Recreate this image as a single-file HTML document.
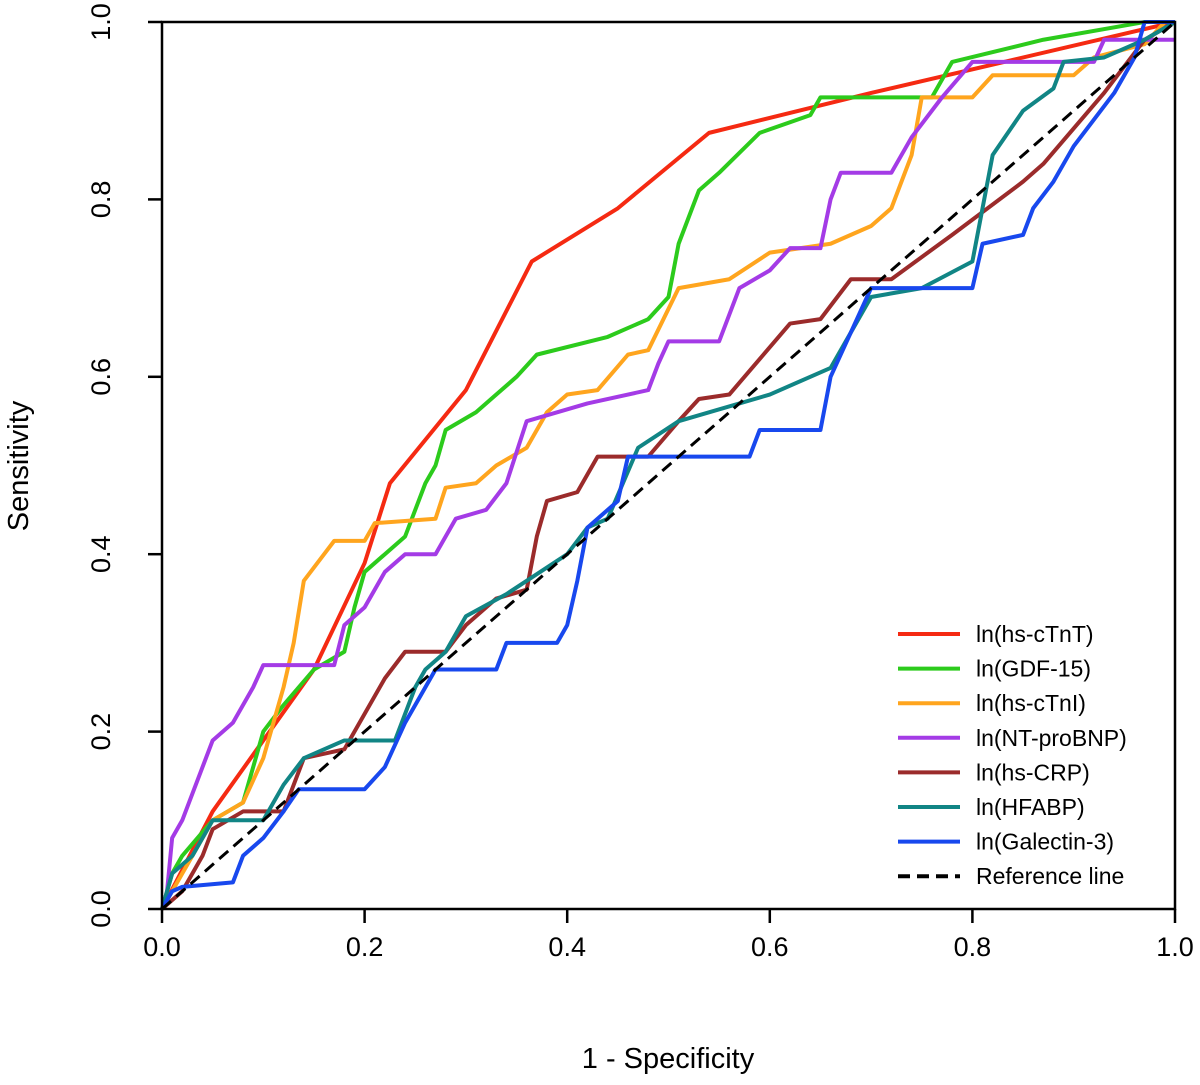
<!DOCTYPE html>
<html><head><meta charset="utf-8"><style>
body{margin:0;background:#fff}
svg text{font-family:"Liberation Sans",sans-serif;fill:#000}
</style></head><body>
<svg id="chart" width="1200" height="1080" xmlns="http://www.w3.org/2000/svg">
<g id="marks"></g>
</svg>
<script>
const xTicks=[0,0.2,0.4,0.6,0.8,1.0];
const yTicks=[0,0.2,0.4,0.6,0.8,1.0];
const seriesNames=["ln(hs-cTnT)","ln(GDF-15)","ln(hs-cTnI)","ln(NT-proBNP)","ln(hs-CRP)","ln(HFABP)","ln(Galectin-3)"];
const cTnT=[[0,0],[0.05,0.11],[0.1,0.19],[0.15,0.27],[0.2,0.39],[0.225,0.48],[0.3,0.585],[0.365,0.73],[0.45,0.79],[0.54,0.875],[0.7,0.92],[1,1]];
const gdf=[[0,0],[0.01,0.04],[0.02,0.06],[0.05,0.1],[0.08,0.12],[0.1,0.2],[0.12,0.23],[0.15,0.27],[0.18,0.29],[0.19,0.34],[0.2,0.38],[0.22,0.4],[0.24,0.42],[0.26,0.48],[0.27,0.5],[0.28,0.54],[0.31,0.56],[0.33,0.58],[0.35,0.6],[0.37,0.625],[0.44,0.645],[0.48,0.665],[0.5,0.69],[0.51,0.75],[0.52,0.78],[0.53,0.81],[0.55,0.83],[0.59,0.875],[0.64,0.895],[0.65,0.915],[0.76,0.915],[0.78,0.955],[0.87,0.98],[0.97,1],[1,1]];
const cTnI=[[0,0],[0.03,0.06],[0.05,0.1],[0.08,0.12],[0.1,0.17],[0.12,0.25],[0.13,0.3],[0.14,0.37],[0.16,0.4],[0.17,0.415],[0.2,0.415],[0.21,0.435],[0.27,0.44],[0.28,0.475],[0.31,0.48],[0.33,0.5],[0.36,0.52],[0.38,0.56],[0.4,0.58],[0.43,0.585],[0.46,0.625],[0.48,0.63],[0.51,0.7],[0.56,0.71],[0.6,0.74],[0.66,0.75],[0.7,0.77],[0.72,0.79],[0.74,0.85],[0.75,0.915],[0.8,0.915],[0.82,0.94],[0.9,0.94],[0.92,0.96],[0.97,0.975],[0.99,1],[1,1]];
const bnp=[[0,0],[0.005,0.02],[0.01,0.08],[0.02,0.1],[0.03,0.13],[0.05,0.19],[0.07,0.21],[0.09,0.25],[0.1,0.275],[0.17,0.275],[0.18,0.32],[0.2,0.34],[0.22,0.38],[0.24,0.4],[0.27,0.4],[0.29,0.44],[0.32,0.45],[0.34,0.48],[0.36,0.55],[0.42,0.57],[0.48,0.585],[0.49,0.615],[0.5,0.64],[0.55,0.64],[0.57,0.7],[0.6,0.72],[0.62,0.745],[0.65,0.745],[0.66,0.8],[0.67,0.83],[0.72,0.83],[0.74,0.87],[0.77,0.915],[0.8,0.955],[0.92,0.955],[0.93,0.98],[1,0.98]];
const crp=[[0,0],[0.02,0.02],[0.04,0.06],[0.05,0.09],[0.08,0.11],[0.12,0.11],[0.14,0.17],[0.18,0.18],[0.2,0.22],[0.22,0.26],[0.24,0.29],[0.28,0.29],[0.3,0.32],[0.33,0.35],[0.36,0.36],[0.37,0.42],[0.38,0.46],[0.41,0.47],[0.43,0.51],[0.48,0.51],[0.51,0.55],[0.53,0.575],[0.56,0.58],[0.59,0.62],[0.62,0.66],[0.65,0.665],[0.68,0.71],[0.72,0.71],[0.78,0.76],[0.85,0.82],[0.87,0.84],[0.9,0.88],[0.93,0.92],[0.97,0.98],[1,1]];
const hfabp=[[0,0],[0.01,0.04],[0.03,0.06],[0.05,0.1],[0.1,0.1],[0.12,0.14],[0.14,0.17],[0.18,0.19],[0.23,0.19],[0.25,0.25],[0.26,0.27],[0.28,0.29],[0.3,0.33],[0.34,0.355],[0.36,0.37],[0.4,0.4],[0.42,0.43],[0.44,0.44],[0.47,0.52],[0.51,0.55],[0.54,0.56],[0.6,0.58],[0.66,0.61],[0.68,0.65],[0.7,0.69],[0.75,0.7],[0.8,0.73],[0.82,0.85],[0.85,0.9],[0.88,0.925],[0.89,0.955],[0.93,0.96],[0.97,0.98],[1,1]];
const gal=[[0,0],[0.01,0.02],[0.02,0.025],[0.07,0.03],[0.08,0.06],[0.1,0.08],[0.12,0.11],[0.135,0.135],[0.2,0.135],[0.22,0.16],[0.24,0.21],[0.26,0.25],[0.27,0.27],[0.33,0.27],[0.34,0.3],[0.39,0.3],[0.4,0.32],[0.41,0.37],[0.42,0.43],[0.45,0.46],[0.46,0.51],[0.58,0.51],[0.59,0.54],[0.65,0.54],[0.66,0.6],[0.7,0.7],[0.8,0.7],[0.81,0.75],[0.85,0.76],[0.86,0.79],[0.88,0.82],[0.9,0.86],[0.92,0.89],[0.94,0.92],[0.96,0.96],[0.97,1],[1,1]];
const seriesData=[cTnT,gdf,cTnI,bnp,crp,hfabp,gal];
const colors=["#f52a12","#2ccb1c","#ffa51e","#a43be6","#9b2b2b","#118585","#1848ee"];
const X0=162,X1=1175,Y0=909,Y1=22;
const sx=v=>X0+v*(X1-X0), sy=v=>Y0-v*(Y0-Y1);
const g=document.getElementById('marks');
const NS="http://www.w3.org/2000/svg";
function mk(t,a){const e=document.createElementNS(NS,t);for(const k in a)e.setAttribute(k,a[k]);g.appendChild(e);return e;}
seriesData.forEach((d,i)=>{
 const p=mk('polyline',{points:d.map(q=>sx(q[0])+','+sy(q[1])).join(' '),fill:'none',stroke:colors[i],'stroke-width':4,'stroke-linejoin':'round'});
 
 
});
const ref=mk('line',{x1:sx(0),y1:sy(0),x2:sx(1),y2:sy(1),stroke:'#000','stroke-width':3,'stroke-dasharray':'12,7'});


const box=mk('rect',{x:X0,y:Y1,width:X1-X0,height:Y0-Y1,fill:'none',stroke:'#000','stroke-width':2.5});


xTicks.forEach(v=>{
 mk('line',{x1:sx(v),x2:sx(v),y1:Y0,y2:Y0+14,stroke:'#000','stroke-width':2.5});
 const t=mk('text',{x:sx(v),y:956,'text-anchor':'middle','font-size':27});t.textContent=v.toFixed(1);
 
 
});
yTicks.forEach(v=>{
 mk('line',{x1:X0-14,x2:X0,y1:sy(v),y2:sy(v),stroke:'#000','stroke-width':2.5});
 const t=mk('text',{x:0,y:0,'text-anchor':'middle','font-size':27,transform:`translate(110,${sy(v)}) rotate(-90)`});t.textContent=v.toFixed(1);
 
 
});
const xt=mk('text',{x:668,y:1068,'text-anchor':'middle','font-size':29});xt.textContent='1 - Specificity';


const yt=mk('text',{x:0,y:0,'text-anchor':'middle','font-size':29,transform:'translate(28,466) rotate(-90)'});yt.textContent='Sensitivity';


const names=seriesNames.concat(['Reference line']);
names.forEach((n,i)=>{
 const y=634+i*34.6;
 const l=mk('line',{x1:898,x2:960,y1:y,y2:y,stroke:i<7?colors[i]:'#000','stroke-width':4});
 if(i==7)l.setAttribute('stroke-dasharray','12,7');
 
 
 const t=mk('text',{x:976,y:y+8,'font-size':23});t.textContent=n;
 
 
});
</script>
</body></html>
